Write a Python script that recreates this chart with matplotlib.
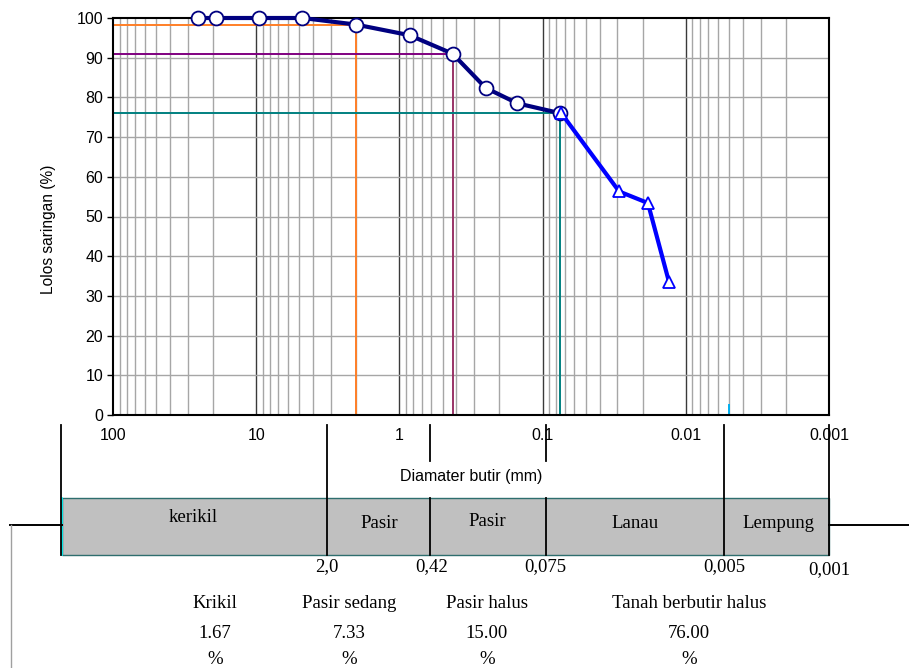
import matplotlib
matplotlib.use("Agg")
import matplotlib.pyplot as plt
from matplotlib.ticker import FixedLocator, NullFormatter

# sieve analysis (circles) and hydrometer (triangles)
sieve_mm = [25.4, 19.1, 9.52, 4.75, 2.0, 0.85, 0.425, 0.25, 0.15, 0.075]
sieve_pass = [100, 100, 100, 100, 98.33, 95.67, 91.0, 82.4, 78.5, 76.0]
hydro_mm = [0.074, 0.0292, 0.0184, 0.0131]
hydro_pass = [76.0, 56.3, 53.4, 33.5]

# guide lines: (diameter, percent passing, colour of horizontal, colour of vertical)
guides = [
    (2.0, 98.33, "#ff7f27", "#ff7f27"),
    (0.425, 91.0, "#800080", "#993366"),
    (0.075, 76.0, "#008080", "#008080"),
]
clay_mark = 0.005

decades = [100, 10, 1, 0.1, 0.01, 0.001]
decade_labels = ["100", "10", "1", "0.1", "0.01", "0.001"]

# classification strip underneath
zone_names = ["kerikil", "Pasir", "Pasir", "Lanau", "Lempung"]
zone_bounds = ["2,0", "0,42", "0,075", "0,005", "0,001"]
summary_names = ["Krikil", "Pasir sedang", "Pasir halus", "Tanah berbutir halus"]
summary_values = [1.67, 7.33, 15.00, 76.00]

fig = plt.figure(figsize=(9.09, 6.68), dpi=100)
W, H = 909, 668

ax = fig.add_axes([113 / W, (H - 415) / H, 716 / W, 397 / H])
ax.set_xscale("log")
ax.set_xlim(100, 0.001)
ax.set_ylim(0, 100)

# grid
minor = [m * 10.0 ** e for e in range(-3, 2) for m in range(2, 10)]
for v in minor:
    ax.axvline(v, color="#a6a6a6", lw=1.0, zorder=1)
for v in decades[1:-1]:
    ax.axvline(v, color="#3a3a3a", lw=1.0, zorder=1)
for v in range(10, 100, 10):
    ax.axhline(v, color="#a6a6a6", lw=1.0, zorder=1)

for d, p, ch, cv in guides:
    ax.plot([100, d], [p, p], color=ch, lw=1.4, zorder=2)
    ax.plot([d, d], [p, 0], color=cv, lw=1.4, zorder=2)
ax.plot([clay_mark, clay_mark], [0, 2.5], color="#00b0f0", lw=1.4, zorder=2)

ax.plot(sieve_mm, sieve_pass, color="#000080", lw=3, marker="o", ms=10,
        mfc="white", mec="#000080", mew=1.3, zorder=4, clip_on=False)
ax.plot(hydro_mm, hydro_pass, color="#0000ff", lw=3, marker="^", ms=9,
        mfc="white", mec="#0000ff", mew=1.3, zorder=5, clip_on=False)

ax.xaxis.set_major_locator(FixedLocator(decades))
ax.set_xticklabels(decade_labels)
ax.xaxis.set_minor_formatter(NullFormatter())
ax.tick_params(axis="x", which="both", length=0, pad=9, labelsize=11.5)
ax.set_yticks(range(0, 101, 10))
ax.tick_params(axis="y", length=4, width=1, labelsize=11.5, pad=3)
for lbl in ax.get_xticklabels() + ax.get_yticklabels():
    lbl.set_family("Liberation Sans")
for s in ax.spines.values():
    s.set_linewidth(1.5)
    s.set_color("black")

ax.set_xlabel("Diamater butir (mm)", family="Liberation Sans", fontsize=11.5, labelpad=19)
ax.set_ylabel("Lolos saringan (%)", family="Liberation Sans", fontsize=11.2)
ax.yaxis.set_label_coords(-0.079, 0.468)

# overlay in pixel units for the classification strip
ov = fig.add_axes([0, 0, 1, 1], zorder=-1)
ov.set_xlim(0, W)
ov.set_ylim(H, 0)
ov.axis("off")
ov.patch.set_alpha(0)

col_x = [61, 327, 430, 546, 724, 829]
ov.add_patch(plt.Rectangle((62, 498), 829 - 62, 57, facecolor="#c0c0c0",
                           edgecolor="#2e6e6e", lw=1.0))
ov.plot([62, 62], [498, 555], color="#00ffff", lw=1.2)
for i, x in enumerate(col_x):
    if i in (2, 3):
        ov.plot([x, x], [425, 461], color="black", lw=1.3)
        ov.plot([x, x], [498, 555], color="black", lw=1.3)
    else:
        ov.plot([x, x], [425, 555], color="black", lw=1.3)
ov.plot([10, 62], [525, 525], color="black", lw=1.4)
ov.plot([829, 909], [525, 525], color="black", lw=1.4)
ov.plot([11, 11], [525, 668], color="#a0a0a0", lw=1.0)

serif = "Liberation Serif"
fs = 13.5
zone_pos = [(193, 518), (379, 524), (487, 522), (635, 523), (778, 523)]
for name, (x, y) in zip(zone_names, zone_pos):
    ov.text(x, y, name, family=serif, fontsize=fs, ha="center", va="center")
bound_pos = [(327, 567), (432, 567), (545, 567), (724, 567), (829, 570)]
for b, (x, y) in zip(zone_bounds, bound_pos):
    ov.text(x, y, b, family=serif, fontsize=fs, ha="center", va="center")

sum_x = [215, 349, 487, 689]
for name, val, x in zip(summary_names, summary_values, sum_x):
    ov.text(x, 604, name, family=serif, fontsize=fs, ha="center", va="center")
    ov.text(x, 634, f"{val:.2f}", family=serif, fontsize=fs, ha="center", va="center")
    ov.text(x, 659, "%", family=serif, fontsize=fs, ha="center", va="center")

fig.savefig("out.png", dpi=100)
